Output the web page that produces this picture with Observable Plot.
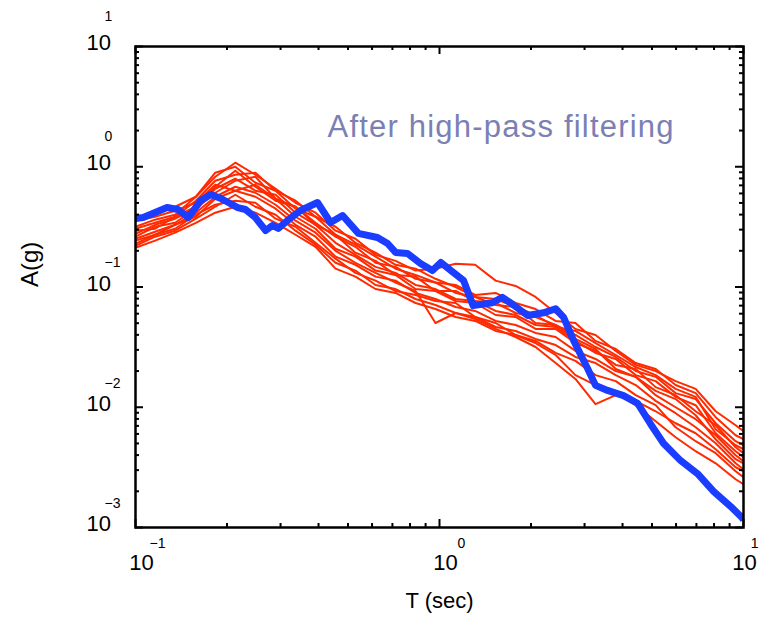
<!DOCTYPE html>
<html>
<head>
<meta charset="utf-8">
<script src="https://cdn.jsdelivr.net/npm/d3@7"></script>
<script src="https://cdn.jsdelivr.net/npm/@observablehq/plot@0.6"></script>
<style>
  html, body { margin: 0; padding: 0; background: #fff; }
  #chart svg { display: block; }
</style>
</head>
<body>
<div id="chart"></div>
<script>
// ---- Data ----
const titleText = "After high-pass filtering";
const xTitle = "T (sec)";
const yTitle = "A(g)";

// Periods (s) shared by the red records
const redPeriods = [0.100, 0.116, 0.135, 0.158, 0.183, 0.213, 0.248, 0.289, 0.336, 0.391, 0.455, 0.529, 0.616, 0.717, 0.834, 0.970, 1.13, 1.31, 1.53, 1.78, 2.07, 2.41, 2.80, 3.26, 3.80, 4.42, 5.14, 5.98, 6.96, 8.10, 9.42, 10.0];

const red1 = [0.370, 0.415, 0.465, 0.563, 0.826, 1.08, 0.858, 0.656, 0.502, 0.415, 0.294, 0.252, 0.185, 0.165, 0.137, 0.142, 0.156, 0.153, 0.113, 0.102, 0.0826, 0.0608, 0.0448, 0.0399, 0.0294, 0.0225, 0.0200, 0.0165, 0.0142, 0.00926, 0.00709, 0.00632];
const red2 = [0.317, 0.363, 0.399, 0.563, 0.892, 1.00, 0.736, 0.632, 0.448, 0.384, 0.272, 0.225, 0.179, 0.142, 0.126, 0.109, 0.104, 0.0858, 0.0892, 0.0736, 0.0656, 0.0522, 0.0502, 0.0356, 0.0305, 0.0233, 0.0208, 0.0153, 0.0131, 0.00826, 0.00585, 0.00542];
const red3 = [0.294, 0.305, 0.384, 0.465, 0.682, 0.926, 0.682, 0.522, 0.465, 0.329, 0.272, 0.193, 0.165, 0.126, 0.122, 0.0926, 0.0926, 0.0765, 0.0736, 0.0608, 0.0563, 0.0483, 0.0399, 0.0317, 0.0262, 0.0200, 0.0179, 0.0131, 0.0117, 0.00736, 0.00522, 0.00483];
const red4 = [0.262, 0.317, 0.342, 0.448, 0.608, 0.765, 0.826, 0.542, 0.384, 0.305, 0.208, 0.179, 0.137, 0.126, 0.0962, 0.0926, 0.0765, 0.0736, 0.0585, 0.0563, 0.0448, 0.0448, 0.0342, 0.0294, 0.0225, 0.0208, 0.0147, 0.0126, 0.00926, 0.00709, 0.00465, 0.00415];
const red5 = [0.243, 0.272, 0.329, 0.384, 0.542, 0.632, 0.563, 0.448, 0.329, 0.262, 0.179, 0.153, 0.122, 0.113, 0.0892, 0.0795, 0.0682, 0.0632, 0.0522, 0.0483, 0.0415, 0.0384, 0.0294, 0.0252, 0.0200, 0.0179, 0.0126, 0.0100, 0.00795, 0.00585, 0.00399, 0.00356];
const red6 = [0.220, 0.262, 0.294, 0.370, 0.465, 0.585, 0.465, 0.399, 0.294, 0.225, 0.159, 0.137, 0.104, 0.0962, 0.0795, 0.0709, 0.0608, 0.0563, 0.0465, 0.0431, 0.0370, 0.0329, 0.0262, 0.0233, 0.0185, 0.0153, 0.0113, 0.00892, 0.00682, 0.00502, 0.00342, 0.00305];
const red7 = [0.212, 0.243, 0.283, 0.342, 0.415, 0.465, 0.415, 0.342, 0.272, 0.216, 0.142, 0.122, 0.0962, 0.0892, 0.0736, 0.0656, 0.0563, 0.0522, 0.0431, 0.0399, 0.0342, 0.0272, 0.0185, 0.0153, 0.0131, 0.0104, 0.00765, 0.00563, 0.00431, 0.00342, 0.00252, 0.00229];
const red8 = [0.252, 0.288, 0.329, 0.415, 0.563, 0.682, 0.608, 0.483, 0.356, 0.283, 0.200, 0.159, 0.131, 0.109, 0.0926, 0.0502, 0.0608, 0.0542, 0.0448, 0.0384, 0.0317, 0.0233, 0.0172, 0.0106, 0.0126, 0.0113, 0.00926, 0.00736, 0.00608, 0.00448, 0.00317, 0.00294];
const red9 = [0.305, 0.342, 0.384, 0.522, 0.765, 0.858, 0.892, 0.632, 0.522, 0.384, 0.317, 0.233, 0.193, 0.153, 0.142, 0.117, 0.100, 0.0826, 0.0795, 0.0682, 0.0585, 0.0465, 0.0431, 0.0342, 0.0272, 0.0216, 0.0185, 0.0142, 0.0122, 0.00656, 0.00483, 0.00448];
const red10 = [0.277, 0.329, 0.370, 0.448, 0.656, 0.795, 0.632, 0.585, 0.415, 0.329, 0.233, 0.185, 0.147, 0.131, 0.104, 0.0962, 0.0795, 0.0765, 0.0632, 0.0585, 0.0483, 0.0465, 0.0356, 0.0283, 0.0252, 0.0185, 0.0165, 0.0122, 0.0104, 0.00608, 0.00431, 0.00384];
const red11 = [0.356, 0.384, 0.431, 0.502, 0.709, 0.632, 0.709, 0.542, 0.465, 0.342, 0.262, 0.216, 0.159, 0.147, 0.117, 0.109, 0.0892, 0.0826, 0.0709, 0.0682, 0.0502, 0.0483, 0.0370, 0.0305, 0.0208, 0.0179, 0.0137, 0.0117, 0.00858, 0.00542, 0.00370, 0.00342];
const red12 = [0.229, 0.272, 0.305, 0.399, 0.483, 0.522, 0.502, 0.370, 0.317, 0.233, 0.172, 0.131, 0.113, 0.0926, 0.0858, 0.0765, 0.0736, 0.0563, 0.0502, 0.0399, 0.0356, 0.0283, 0.0243, 0.0185, 0.0165, 0.0126, 0.0104, 0.00682, 0.00522, 0.00415, 0.00294, 0.00262];

// Blue (target) spectrum
const bluePeriods = [0.100, 0.106, 0.127, 0.138, 0.149, 0.164, 0.177, 0.191, 0.202, 0.217, 0.230, 0.248, 0.268, 0.282, 0.295, 0.316, 0.349, 0.397, 0.438, 0.480, 0.541, 0.625, 0.675, 0.717, 0.785, 0.866, 0.948, 1.01, 1.09, 1.20, 1.29, 1.49, 1.61, 1.71, 1.95, 2.20, 2.41, 2.56, 2.76, 3.07, 3.26, 3.57, 4.03, 4.48, 4.94, 5.46, 6.21, 7.06, 7.97, 9.06, 9.92, 10.0];
const blueA = [0.371, 0.378, 0.458, 0.441, 0.378, 0.524, 0.588, 0.544, 0.504, 0.458, 0.441, 0.378, 0.295, 0.325, 0.307, 0.357, 0.433, 0.504, 0.344, 0.393, 0.279, 0.258, 0.230, 0.194, 0.190, 0.157, 0.137, 0.160, 0.137, 0.113, 0.070, 0.074, 0.082, 0.074, 0.058, 0.061, 0.066, 0.056, 0.036, 0.021, 0.0152, 0.0138, 0.0125, 0.0108, 0.0073, 0.0050, 0.0036, 0.0028, 0.0020, 0.0015, 0.0012, 0.00115];

// Ticks
const xMajor = [0.1, 1, 10];
const xExp = ["\u22121", "0", "1"];
const xMinor = [0.2, 0.3, 0.4, 0.5, 0.6, 0.7, 0.8, 0.9, 2, 3, 4, 5, 6, 7, 8, 9];
const yMajor = [0.001, 0.01, 0.1, 1, 10];
const yExp = ["\u22123", "\u22122", "\u22121", "0", "1"];
const yMinor = [0.002, 0.003, 0.004, 0.005, 0.006, 0.007, 0.008, 0.009,
                0.02, 0.03, 0.04, 0.05, 0.06, 0.07, 0.08, 0.09,
                0.2, 0.3, 0.4, 0.5, 0.6, 0.7, 0.8, 0.9,
                2, 3, 4, 5, 6, 7, 8, 9];

// ---- Build tables ----
const redSeries = [red1, red2, red3, red4, red5, red6, red7, red8, red9, red10, red11, red12];
const redData = redSeries.flatMap((s, k) => s.map((a, i) => ({id: k, T: redPeriods[i], A: a})));
const blueData = bluePeriods.map((t, i) => ({T: t, A: blueA[i]}));
const yLab = yMajor.map((v, i) => ({v, e: yExp[i], neg: v < 1}));
const xLab = xMajor.map((v, i) => ({v, e: xExp[i], last: i === xMajor.length - 1}));

const W = 759, H = 631, mL = 135, mR = 16, mT = 46, mB = 104;
const pw = W - mL - mR, ph = H - mT - mB;
const major = 8, minor = 4;
const font = "'Liberation Sans', Arial, Helvetica, sans-serif";

const plot = Plot.plot({
  width: W, height: H,
  marginLeft: mL, marginRight: mR, marginTop: mT, marginBottom: mB,
  x: {type: "log", domain: [0.1, 10], axis: null},
  y: {type: "log", domain: [0.001, 10], axis: null},
  style: {fontFamily: font, background: "white", color: "black"},
  marks: [
    Plot.line(redData, {x: "T", y: "A", z: "id", stroke: "#ff2a00", strokeWidth: 2, strokeLinejoin: "round", clip: true}),
    Plot.line(blueData, {x: "T", y: "A", stroke: "#1a3dff", strokeWidth: 7, strokeLinejoin: "round", strokeLinecap: "butt", clip: true}),
    // inward ticks, all four sides
    Plot.ruleX(xMajor, {x: d => d, insetTop: ph - major, stroke: "black", strokeWidth: 2}),
    Plot.ruleX(xMajor, {x: d => d, insetBottom: ph - major, stroke: "black", strokeWidth: 2}),
    Plot.ruleX(xMinor, {x: d => d, insetTop: ph - minor, stroke: "black", strokeWidth: 2}),
    Plot.ruleX(xMinor, {x: d => d, insetBottom: ph - minor, stroke: "black", strokeWidth: 2}),
    Plot.ruleY(yMajor, {y: d => d, insetRight: pw - major, stroke: "black", strokeWidth: 2}),
    Plot.ruleY(yMajor, {y: d => d, insetLeft: pw - major, stroke: "black", strokeWidth: 2}),
    Plot.ruleY(yMinor, {y: d => d, insetRight: pw - minor, stroke: "black", strokeWidth: 2}),
    Plot.ruleY(yMinor, {y: d => d, insetLeft: pw - minor, stroke: "black", strokeWidth: 2}),
    Plot.frame({stroke: "black", strokeWidth: 2.5}),
    // tick labels (x)
    Plot.text(xLab.filter(d => !d.last), {x: "v", frameAnchor: "bottom", dx: 6, dy: 42, text: () => "10", fontSize: 22, fill: "black"}),
    Plot.text(xLab.filter(d => !d.last), {x: "v", frameAnchor: "bottom", dx: 22, dy: 20, text: "e", fontSize: 14, fill: "black"}),
    Plot.text(xLab.filter(d => d.last), {x: "v", frameAnchor: "bottom", dx: 1, dy: 42, text: () => "10", fontSize: 22, fill: "black"}),
    Plot.text(xLab.filter(d => d.last), {x: "v", frameAnchor: "bottom", dx: 15, dy: 20, textAnchor: "end", text: "e", fontSize: 14, fill: "black"}),
    // tick labels (y)
    Plot.text(yLab, {y: "v", frameAnchor: "left", dx: -49, dy: -3.5, text: () => "10", fontSize: 22, fill: "black"}),
    Plot.text(yLab.filter(d => d.neg), {y: "v", frameAnchor: "left", dx: -31, dy: -24, text: "e", fontSize: 14, fill: "black"}),
    Plot.text(yLab.filter(d => !d.neg), {y: "v", frameAnchor: "left", dx: -31, dy: -30, text: "e", fontSize: 14, fill: "black"}),
    // axis titles
    Plot.text([xTitle], {frameAnchor: "bottom", dy: 80, text: d => d, fontSize: 22, fill: "black"}),
    Plot.text([yTitle], {frameAnchor: "left", dx: -105, dy: 0, rotate: -90, text: d => d, fontSize: 24, fill: "black"}),
    // annotation
    Plot.text([titleText], {frameAnchor: "top-left", dx: 192, dy: 68, textAnchor: "start", text: d => d, fontSize: 31, fill: "#7b80b4"})
  ]
});

for (const t of plot.querySelectorAll("text")) {
  if (t.textContent === titleText) {
    t.setAttribute("textLength", 346);
    t.setAttribute("lengthAdjust", "spacing");
  }
}
document.getElementById("chart").appendChild(plot);
</script>
</body>
</html>
